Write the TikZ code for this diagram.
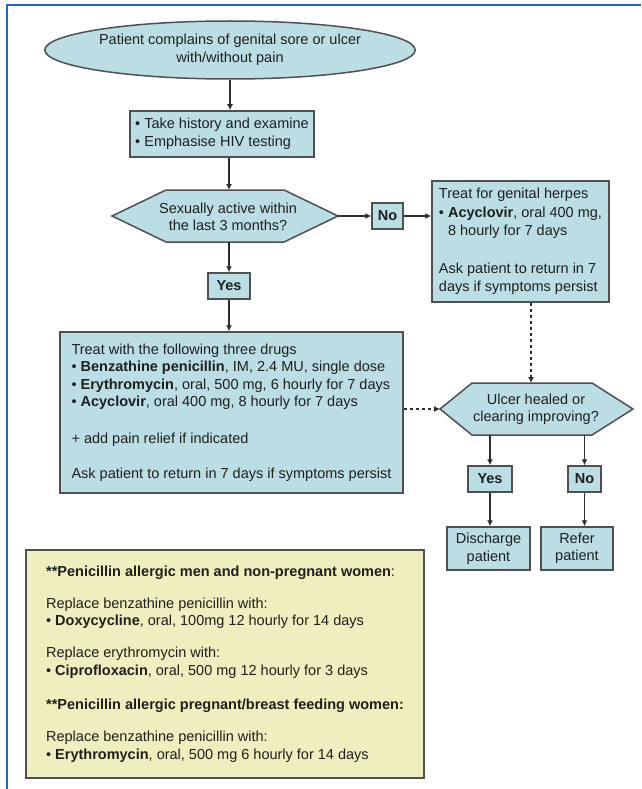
\documentclass[tikz,border=0pt]{standalone}
\usepackage{fontspec}
\setmainfont{Liberation Sans}
\usetikzlibrary{arrows.meta,shapes.geometric,shadows}
\definecolor{boxblue}{RGB}{186,222,228}
\definecolor{boxyellow}{RGB}{238,238,190}
\definecolor{edgegray}{RGB}{80,80,80}
\definecolor{frameblue}{RGB}{25,105,200}
\definecolor{linegray}{RGB}{45,45,45}
\begin{document}
\begin{tikzpicture}[x=1pt,y=-1pt,
  txt/.style={font=\fontsize{14.5}{17.5}\selectfont, text=black!88, align=center},
  shapeline/.style={draw=edgegray, line width=1.5pt},
  bbox/.style={rectangle, shapeline, fill=boxblue, txt, align=left, inner sep=0pt,
    drop shadow={shadow xshift=1.3pt, shadow yshift=-1.3pt, opacity=0.45}},
  cbox/.style={bbox, align=center},
  ybox/.style={bbox, fill=boxyellow},
  ell/.style={ellipse, shapeline, fill=boxblue, txt, inner sep=0pt},
  arr/.style={draw=linegray, line width=1.3pt, -{Latex[length=6pt,width=6pt]}},
  dotarr/.style={arr, dash pattern=on 3pt off 3pt}
]
\useasboundingbox (0,0) rectangle (641,789);
\fill[white] (0,0) rectangle (641,789);
% frame
\draw[frameblue, line width=2pt] (7,789) -- (7,5) -- (641,5);

% start ellipse
\node[ell, minimum width=370pt, minimum height=58pt] (start) at (230,50)
  {Patient complains of genital sore or ulcer\\with/without pain};

% history box
\node[bbox, minimum width=184pt, minimum height=46pt] (hist) at (222,134)
  {• Take history and examine\\• Emphasise HIV testing};

% hexagon 1
\coordinate (h1w) at (112,216);
\coordinate (h1e) at (338,216);
\coordinate (h1n) at (229,190);
\coordinate (h1s) at (229,242);
\filldraw[shapeline, fill=boxblue] (h1w) -- (166,190) -- (284,190) -- (h1e) -- (284,242) -- (166,242) -- cycle;
\node[txt] (q1) at (228,217) {Sexually active within\\the last 3 months?};

% No 1
\node[cbox, minimum width=31pt, minimum height=26pt] (no1) at (387.5,216) {\textbf{No}};

% herpes box
\node[bbox, minimum width=177pt, minimum height=121pt,
  font=\fontsize{14.5}{18.5}\selectfont] (herp) at (520.5,241.5)
  {Treat for genital herpes\\
   • \textbf{Acyclovir}, oral 400 mg,\\
   \hphantom{•} 8 hourly for 7 days\\[19pt]
   Ask patient to return in 7\\
   days if symptoms persist};

% Yes 1
\node[cbox, minimum width=42pt, minimum height=26pt] (yes1) at (229,286) {\textbf{Yes}};

% treat box
\node[bbox, minimum width=343pt, minimum height=161pt] (treat) at (231.5,412.5)
  {Treat with the following three drugs\\
   • \textbf{Benzathine penicillin}, IM, 2.4 MU, single dose\\
   • \textbf{Erythromycin}, oral, 500 mg, 6 hourly for 7 days\\
   • \textbf{Acyclovir}, oral 400 mg, 8 hourly for 7 days\\[19.5pt]
   + add pain relief if indicated\\[17.5pt]
   Ask patient to return in 7 days if symptoms persist};

% hexagon 2
\coordinate (h2w) at (440,409);
\coordinate (h2e) at (633,409);
\coordinate (h2n) at (531,383);
\coordinate (h2s) at (536,435);
\filldraw[shapeline, fill=boxblue] (h2w) -- (472,383) -- (592,383) -- (h2e) -- (592,435) -- (472,435) -- cycle;
\node[txt] (q2) at (536,409) {Ulcer healed or\\clearing improving?};

% Yes 2 / No 2
\node[cbox, minimum width=44pt, minimum height=26pt] (yes2) at (490,479) {\textbf{Yes}};
\node[cbox, minimum width=33pt, minimum height=26pt] (no2) at (584.5,479) {\textbf{No}};

% outcomes
\node[cbox, minimum width=83pt, minimum height=43pt] (dis) at (488.5,548.5) {Discharge\\patient};
\node[cbox, minimum width=72pt, minimum height=43pt] (ref) at (577,548.5) {Refer\\patient};

% allergy box
\node[ybox, minimum width=398pt, minimum height=228pt] (allergy) at (225,664)
  {\textbf{**Penicillin allergic men and non-pregnant women}:\\[14.5pt]
   Replace benzathine penicillin with:\\
   • \textbf{Doxycycline}, oral, 100mg 12 hourly for 14 days\\[14.5pt]
   Replace erythromycin with:\\
   • \textbf{Ciprofloxacin}, oral, 500 mg 12 hourly for 3 days\\[17pt]
   \textbf{**Penicillin allergic pregnant/breast feeding women:}\\[14.5pt]
   Replace benzathine penicillin with:\\
   • \textbf{Erythromycin}, oral, 500 mg 6 hourly for 14 days};

% connectors
\draw[arr] (start.south) -- (start.south |- hist.north);
\draw[arr] (hist.south -| h1n) -- (h1n);
\draw[arr] (h1e) -- (no1.west);
\draw[arr] (no1.east) -- (herp.west |- no1.east);
\draw[arr] (h1s) -- (h1s |- yes1.north);
\draw[arr] (yes1.south) -- (yes1.south |- treat.north);
\draw[dotarr] (h2n |- herp.south) -- (h2n);
\draw[dotarr] (treat.east |- h2w) -- (h2w);
\draw[arr] (yes2.north |- h2s) -- (yes2.north);
\draw[arr] (no2.north |- h2s) -- (no2.north);
\draw[arr] (yes2.south) -- (yes2.south |- dis.north);
\draw[arr] (no2.south) -- (no2.south |- ref.north);
\end{tikzpicture}
\end{document}
